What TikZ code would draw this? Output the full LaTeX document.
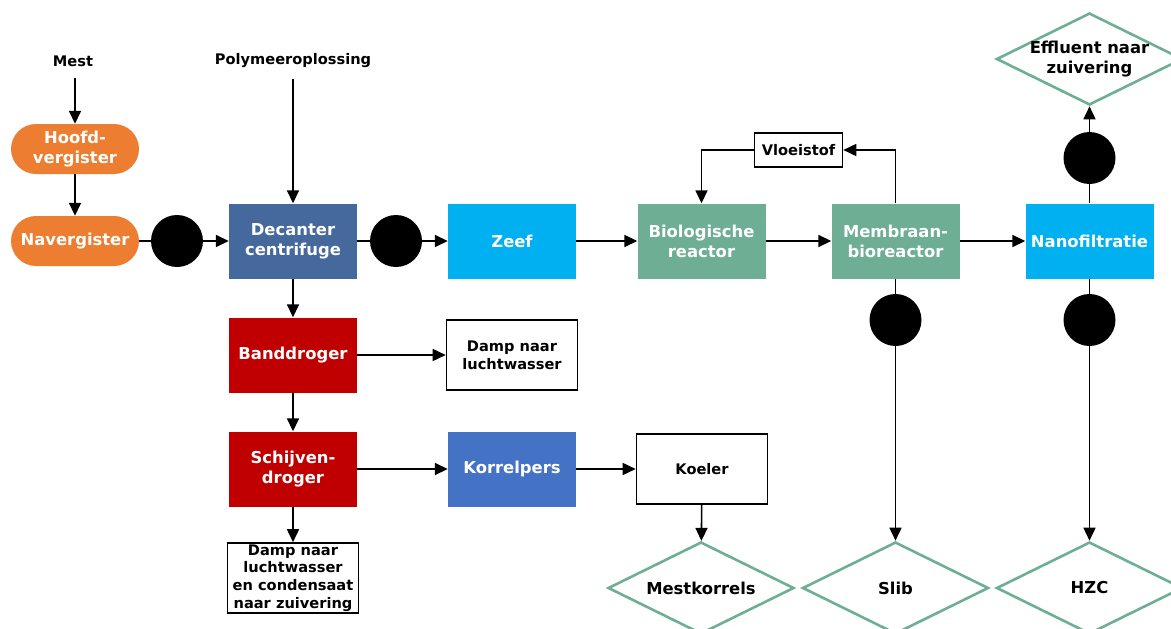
\documentclass[tikz,border=0pt]{standalone}
\usepackage{fontspec}
\setmainfont{DejaVu Sans}
\usetikzlibrary{arrows.meta,shapes.geometric}
\definecolor{orng}{HTML}{ED7D31}
\definecolor{steel}{HTML}{46699D}
\definecolor{sky}{HTML}{00B0F0}
\definecolor{sage}{HTML}{6DAE94}
\definecolor{dred}{HTML}{C00000}
\definecolor{mblue}{HTML}{4472C4}
\tikzset{
  big/.style={font=\bfseries\fontsize{16.4}{20}\selectfont},
  small/.style={font=\bfseries\fontsize{14.6}{17.6}\selectfont},
  unit/.style={big, text=white, align=center, inner sep=0pt,
    minimum width=128pt, minimum height=75pt},
  stadium/.style={big, text=white, align=center, fill=orng, inner sep=0pt,
    rounded corners=25pt, minimum width=128pt, minimum height=50pt},
  whitebox/.style={small, draw=black, line width=1.6pt, fill=white, align=center, inner sep=1pt},
  product/.style={big, diamond, draw=sage, line width=2.6pt, align=center,
    minimum width=186pt, minimum height=92pt, aspect=2, inner sep=0pt},
  pump/.style={circle, fill=black, minimum size=52pt, inner sep=0pt},
  flow/.style={line width=1.6pt, -{Triangle[length=13pt,width=12pt]}},
  pipe/.style={line width=1.6pt},
  label/.style={small, inner sep=0pt}
}
\begin{document}
\begin{tikzpicture}[x=1pt,y=-1pt]
\useasboundingbox (0,0) rectangle (1171,629);

% feed labels
\node[label] (mest) at (73,61) {Mest};
\node[label] (poly) at (293,61) {Polymeeroplossing};

% digestion
\node[stadium] (hoofd) at (75,149) {Hoofd-\\vergister};
\node[stadium] (nav) at (75,241) {Navergister};

% main line
\node[unit, fill=steel] (dec) at (293,241) {Decanter\\centrifuge};
\node[unit, fill=sky] (zeef) at (512,241) {Zeef};
\node[unit, fill=sage] (bio) at (701.5,241) {Biologische\\reactor};
\node[unit, fill=sage] (mbr) at (895.5,241) {Membraan-\\bioreactor};
\node[unit, fill=sky] (nano) at (1089.5,241) {Nanofiltratie};

\node[pump] (p1) at (177,241) {};
\node[pump] (p2) at (396,241) {};
\node[pump] (p3) at (895.5,320) {};
\node[pump] (p4) at (1089.5,320) {};
\node[pump] (p5) at (1089.5,158) {};

% solids line
\node[unit, fill=dred] (band) at (293,355) {Banddroger};
\node[unit, fill=dred] (schijf) at (293,469) {Schijven-\\droger};
\node[unit, fill=mblue] (korrel) at (512,469) {Korrelpers};

\node[whitebox, minimum width=131pt, minimum height=70pt] (damp1) at (512,355) {Damp naar\\luchtwasser};
\node[whitebox, minimum width=131pt, minimum height=70pt] (koeler) at (702,469) {Koeler};
\node[whitebox, minimum width=131pt, minimum height=70pt] (damp2) at (293,578) {Damp naar\\luchtwasser\\en condensaat\\naar zuivering};
\node[whitebox, minimum width=88pt, minimum height=34pt] (vloei) at (798.5,150) {Vloeistof};

% end products
\node[product, inner sep=-6pt] (eff) at (1089.5,59) {Effluent naar\\zuivering};
\node[product] (korrels) at (701,588) {Mestkorrels};
\node[product] (slib) at (895.5,588) {Slib};
\node[product] (hzc) at (1089.5,588) {HZC};

% connections
\draw[flow, shorten <=11pt] (hoofd.north |- mest.south) -- (hoofd.north);
\draw[flow] (hoofd) -- (nav);
\draw[pipe] (nav) -- (p1);
\draw[flow] (p1) -- (dec);
\draw[flow, shorten <=11pt] (dec.north |- poly.south) -- (dec.north);
\draw[pipe] (dec) -- (p2);
\draw[flow] (p2) -- (zeef);
\draw[flow] (zeef) -- (bio);
\draw[flow] (bio) -- (mbr);
\draw[flow] (mbr) -- (nano);
\draw[flow] (mbr.north) |- (vloei.east);
\draw[flow] (vloei.west) -| (bio.north);
\draw[pipe] (nano) -- (p5);
\draw[flow] (p5) -- (eff);
\draw[pipe] (mbr) -- (p3);
\draw[flow] (p3) -- (slib);
\draw[pipe] (nano) -- (p4);
\draw[flow] (p4) -- (hzc);
\draw[flow] (dec) -- (band);
\draw[flow] (band) -- (damp1);
\draw[flow] (band) -- (schijf);
\draw[flow] (schijf) -- (korrel);
\draw[flow] (schijf) -- (damp2);
\draw[flow] (korrel) -- (koeler);
\draw[flow] (koeler) -- (korrels);
\end{tikzpicture}
\end{document}
